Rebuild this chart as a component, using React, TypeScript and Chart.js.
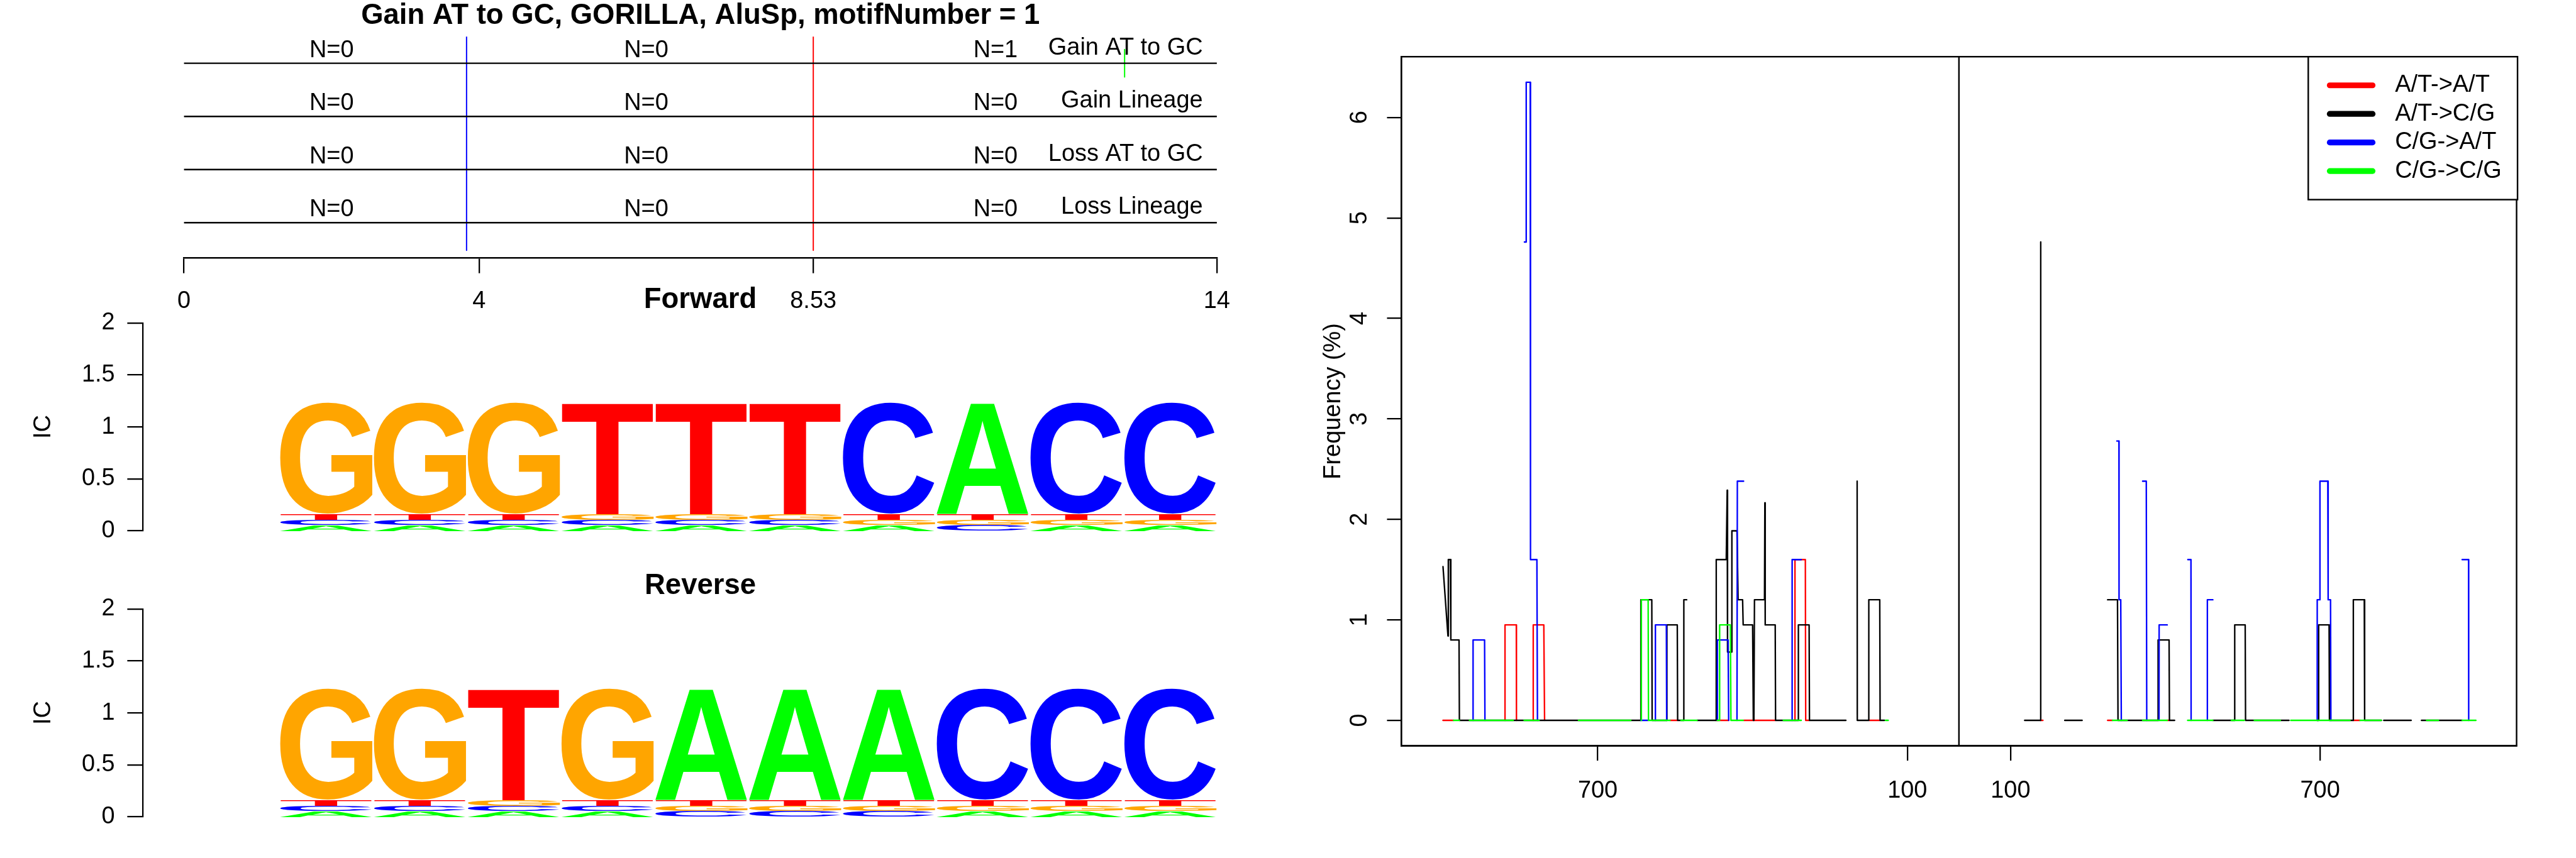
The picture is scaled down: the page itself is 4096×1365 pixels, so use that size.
import React, { useEffect, useRef } from 'react';
import { Chart, registerables } from 'chart.js';

Chart.register(...registerables);

const S = 0.758;
const FAMILY = '"Liberation Sans", Arial, Helvetica, sans-serif';
const px = (v: number) => v * S;

// ---------------- data: top track panel ----------------
const figureTitle = 'Gain AT to GC, GORILLA, AluSp, motifNumber = 1';
const trackRows = ['Gain AT to GC', 'Gain Lineage', 'Loss AT to GC', 'Loss Lineage'];
const trackCounts = [
  [0, 0, 1],
  [0, 0, 0],
  [0, 0, 0],
  [0, 0, 0],
];
const countPositions = [2, 6.265, 11];
const rowLabelPosition = 13.81;
const trackTicks = [0, 4, 8.53, 14];
const motifStart = 3.83;
const motifEnd = 8.53;
const trackEvents = [{ row: 0, pos: 12.75, color: '#00FF00' }];

// ---------------- data: sequence logos ----------------
const letterColors: Record<string, string> = { A: '#00FF00', C: '#0000FF', G: '#FFA500', T: '#FF0000' };
const icTicks = [0, 0.5, 1, 1.5, 2];
type Stack = [string, number][];
const forwardLogo: Stack[] = [
  [['A', 0.056], ['C', 0.05], ['T', 0.052], ['G', 1.079]],
  [['A', 0.056], ['C', 0.05], ['T', 0.052], ['G', 1.079]],
  [['A', 0.056], ['C', 0.05], ['T', 0.052], ['G', 1.079]],
  [['A', 0.056], ['C', 0.05], ['G', 0.052], ['T', 1.079]],
  [['A', 0.056], ['C', 0.05], ['G', 0.052], ['T', 1.079]],
  [['A', 0.056], ['C', 0.05], ['G', 0.052], ['T', 1.079]],
  [['A', 0.056], ['G', 0.05], ['T', 0.052], ['C', 1.079]],
  [['C', 0.056], ['G', 0.05], ['T', 0.052], ['A', 1.079]],
  [['A', 0.056], ['G', 0.05], ['T', 0.052], ['C', 1.079]],
  [['A', 0.056], ['G', 0.05], ['T', 0.052], ['C', 1.079]],
];
const reverseLogo: Stack[] = [
  [['A', 0.056], ['C', 0.05], ['T', 0.052], ['G', 1.079]],
  [['A', 0.056], ['C', 0.05], ['T', 0.052], ['G', 1.079]],
  [['A', 0.056], ['C', 0.05], ['G', 0.052], ['T', 1.079]],
  [['A', 0.056], ['C', 0.05], ['T', 0.052], ['G', 1.079]],
  [['C', 0.056], ['G', 0.05], ['T', 0.052], ['A', 1.079]],
  [['C', 0.056], ['G', 0.05], ['T', 0.052], ['A', 1.079]],
  [['C', 0.056], ['G', 0.05], ['T', 0.052], ['A', 1.079]],
  [['A', 0.056], ['G', 0.05], ['T', 0.052], ['C', 1.079]],
  [['A', 0.056], ['G', 0.05], ['T', 0.052], ['C', 1.079]],
  [['A', 0.056], ['G', 0.05], ['T', 0.052], ['C', 1.079]],
];

// ---------------- data: frequency plot ----------------
const freqYTicks = [0, 1, 2, 3, 4, 5, 6];
const leftPanelTicks = [700, 100];
const rightPanelTicks = [100, 700];
const seriesNames = ['A/T->A/T', 'A/T->C/G', 'C/G->A/T', 'C/G->C/G'];
const seriesColors = ['#FF0000', '#000000', '#0000FF', '#00FF00'];

type Pt = [number, number] | null;

const leftRed: Pt[] = [
  [1000, 0], [979.5, 0], null,
  [879.8, 0], [879.8, 0.95], [857.9, 0.95], [857.6, 0], null,
  [825.1, 0], [825.1, 0.95], [804.6, 0.95], [803.1, 0], null,
  [560, 0], [545.9, 0], null,
  [470.4, 0], [446.3, 0], null,
  [417.1, 0], [356.1, 0], null,
  [317.8, 0], [317.8, 1.6], [297.7, 1.6], [297, 0], [290.4, 0], null,
  [173.6, 0], [153.5, 0],
];
const leftBlack: Pt[] = [
  [1000, 1.53], [990.4, 0.84], [989.7, 1.6], [985.9, 1.6], [984.8, 0.8], [968.9, 0.8], [968.2, 0],
  [616.5, 0], [616.5, 1.2], [595.3, 1.2], [594.6, 0], [566, 0], [566, 0.95], [545.9, 0.95], [545.2, 0],
  [533.2, 0], [533.2, 1.2], [527.7, 1.2], null,
  [507.6, 0], [470.4, 0], [470.4, 1.6], [451, 1.6], [449.2, 2.29], [448.5, 0.68], [440.1, 0.68],
  [440.1, 1.886], [430.2, 1.886], [428, 1.2], [419.3, 1.2], [418.2, 0.95], [399.9, 0.95], [398.5, 0],
  [397.4, 0], [396.3, 1.2], [376.9, 1.2], [376.2, 2.165], [375.5, 0.95], [356.1, 0.95], [355.4, 0],
  [311.2, 0], [311.2, 0.95], [290.4, 0.95], [289.7, 0], [219.2, 0], null,
  [197.3, 2.38], [197, 0], [174.7, 0], [174.7, 1.2], [153.5, 1.2], [152.8, 0], [144.4, 0],
];
const leftBlue: Pt[] = [
  [941.7, 0], [941.7, 0.8], [919.4, 0.8], [918.7, 0], null,
  [842.2, 4.76], [839, 4.76], [838.7, 6.35], [830.9, 6.35], [830.4, 1.6], [818, 1.6], [816.9, 0], null,
  [616.5, 0], [602.4, 0], null,
  [588.3, 0], [588.3, 0.95], [567.1, 0.95], [566.5, 0], null,
  [468.2, 0], [468.2, 0.8], [447.4, 0.8], [446.3, 0], null,
  [430.2, 0], [429.5, 2.38], [417.4, 2.38], null,
  [323.3, 0], [323.3, 1.6], [305.7, 1.6],
];
const leftGreen: Pt[] = [
  [979.5, 0], [968.2, 0], null,
  [948.7, 0], [863.9, 0], null,
  [842.7, 0], [813.7, 0], null,
  [737.4, 0], [636, 0], null,
  [615.5, 0], [615.5, 1.2], [602.4, 1.2], [601.7, 0], [560, 0], null,
  [538.8, 0], [507.6, 0], null,
  [468.2, 0], [463.8, 0], [463.8, 0.95], [443, 0.95], [441.9, 0], [418.2, 0], null,
  [340.4, 0], [305.7, 0], null,
  [142.5, 0], [137.1, 0],
];
const rightRed: Pt[] = [
  [158.1, 0], [162.7, 0], null,
  [288.2, 0], [297.7, 0], null,
  [403.7, 0], [407.3, 0], null,
  [764.4, 0], [777.5, 0],
];
const rightBlack: Pt[] = [
  [127.4, 0], [158.1, 0], [158.5, 4.76], null,
  [205.1, 0], [238.7, 0], null,
  [288.2, 1.2], [307.3, 1.2], [308.3, 0], [386, 0], [386, 0.8], [407.3, 0.8], [408, 0], [417.9, 0], null,
  [492.1, 0], [534.5, 0], [534.5, 0.95], [554.8, 0.95], [555.5, 0], [639.6, 0], null,
  [694.4, 0], [697.2, 0], [697.2, 0.95], [717.4, 0.95], [718.1, 0], [764.4, 0], [764.4, 1.2],
  [785.6, 1.2], [786.3, 0], [818.8, 0], null,
  [823.4, 0], [876.4, 0], null,
  [896.5, 0], [975.3, 0],
];
const rightBlue: Pt[] = [
  [306, 2.78], [310.1, 2.78], [310.3, 1.2], [313.6, 1.2], [314.7, 0], null,
  [356, 2.38], [363.1, 2.38], [364, 0], null,
  [387.8, 0], [388, 0.95], [403.7, 0.95], null,
  [443.7, 1.6], [449.7, 1.6], [450, 0], null,
  [481.5, 0], [481.5, 1.2], [492.1, 1.2], null,
  [694.4, 0], [694.4, 1.2], [699.7, 1.2], [699.7, 2.38], [714.9, 2.38], [715.6, 1.2], [720.2, 1.2], [720.9, 0], null,
  [975.3, 1.6], [987.7, 1.6], [988, 0],
];
const rightGreen: Pt[] = [
  [297.7, 0], [326, 0], null,
  [356, 0], [403.7, 0], null,
  [443.3, 0], [492.1, 0], null,
  [528, 0], [553, 0], null,
  [572.5, 0], [623, 0], null,
  [643.2, 0], [758, 0], null,
  [777.5, 0], [818.8, 0], null,
  [906.4, 0], [929.4, 0], null,
  [975.3, 0], [1001.9, 0],
];

// ---------------- helpers ----------------
function toData(pts: Pt[], sign: number) {
  const out: { x: number; y: number | null }[] = [];
  let lastX = 0;
  for (const p of pts) {
    if (p === null) out.push({ x: lastX, y: null });
    else {
      lastX = sign * p[0];
      out.push({ x: lastX, y: p[1] });
    }
  }
  return out;
}

const baseOptions = () => ({
  responsive: false,
  maintainAspectRatio: false,
  devicePixelRatio: 1,
  animation: false as const,
  events: [] as any[],
  plugins: { legend: { display: false }, tooltip: { enabled: false }, title: { display: false } },
  elements: { point: { radius: 0 }, line: { tension: 0, borderJoinStyle: 'round', borderCapStyle: 'round', fill: false } },
});

function drawLetter(ctx: CanvasRenderingContext2D, ch: string, color: string, x0: number, x1: number, yTop: number, yBot: number) {
  const h = yBot - yTop;
  const w = x1 - x0;
  if (h <= 0.2 || w <= 0) return;
  ctx.save();
  ctx.font = `bold 400px ${FAMILY}`;
  ctx.textAlign = 'left';
  ctx.textBaseline = 'alphabetic';
  const m = ctx.measureText(ch);
  const gl = m.actualBoundingBoxLeft;
  const gr = m.actualBoundingBoxRight;
  const ga = m.actualBoundingBoxAscent;
  const gd = m.actualBoundingBoxDescent;
  ctx.translate(x0, yTop);
  ctx.scale(w / (gl + gr), h / (ga + gd));
  ctx.fillStyle = color;
  ctx.fillText(ch, gl, ga);
  ctx.restore();
}

// ---------------- chart configs ----------------
function trackConfig(): any {
  const W = 2700, H = 680, areaL = 386, areaR = 2552, areaT = 77, areaB = 542;
  const rowSpacing = 111.67;
  const yMax = (areaB - areaT) / rowSpacing;
  const datasets: any[] = [];
  trackRows.forEach((_, i) => {
    datasets.push({
      data: [{ x: trackTicks[0], y: i + 0.5 }, { x: trackTicks[trackTicks.length - 1], y: i + 0.5 }],
      borderColor: '#000000', borderWidth: px(3.2),
    });
  });
  datasets.push({ data: [{ x: motifStart, y: 0 }, { x: motifStart, y: 4.02 }], borderColor: '#0000FF', borderWidth: px(2.6) });
  datasets.push({ data: [{ x: motifEnd, y: 0 }, { x: motifEnd, y: 4.02 }], borderColor: '#FF0000', borderWidth: px(2.6) });
  trackEvents.forEach((e) => {
    datasets.push({ data: [{ x: e.pos, y: e.row + 0.24 }, { x: e.pos, y: e.row + 0.76 }], borderColor: e.color, borderWidth: px(2.6) });
  });
  const textPlugin = {
    id: 'trackText',
    afterDraw(chart: any) {
      const { ctx, chartArea, scales } = chart;
      const xs = scales.x, ys = scales.y;
      ctx.save();
      ctx.fillStyle = '#000';
      ctx.textBaseline = 'middle';
      ctx.textAlign = 'center';
      ctx.font = `bold ${px(60)}px ${FAMILY}`;
      ctx.fillText(figureTitle, (chartArea.left + chartArea.right) / 2, px(34));
      ctx.font = `${px(50)}px ${FAMILY}`;
      trackCounts.forEach((row, i) => {
        row.forEach((n, j) => {
          ctx.fillText(`N=${n}`, xs.getPixelForValue(countPositions[j]), ys.getPixelForValue(i + 0.26));
        });
      });
      ctx.textAlign = 'right';
      trackRows.forEach((lab, i) => {
        ctx.fillText(lab, xs.getPixelForValue(rowLabelPosition), ys.getPixelForValue(i + 0.21));
      });
      ctx.restore();
    },
  };
  return {
    type: 'line',
    data: { datasets },
    options: {
      ...baseOptions(),
      layout: { padding: { left: px(areaL), right: px(W - areaR), top: px(areaT), bottom: 0 } },
      scales: {
        x: {
          type: 'linear', position: 'bottom', min: 0, max: 14,
          afterBuildTicks: (s: any) => { s.ticks = trackTicks.map((v) => ({ value: v })); },
          afterFit: (s: any) => { s.height = px(H - areaB); },
          grid: { drawOnChartArea: false, drawTicks: true, tickLength: px(32), color: '#000', lineWidth: px(3) },
          border: { display: true, color: '#000', width: px(3.2) },
          ticks: { autoSkip: false, maxRotation: 0, padding: px(29), color: '#000', font: { family: FAMILY, size: px(50) }, callback: (v: any) => String(v) },
        },
        y: { type: 'linear', display: false, min: 0, max: yMax, reverse: true },
      },
    },
    plugins: [textPlugin],
  };
}

function logoConfig(title: string, columns: Stack[]): any {
  const W = 2700, H = 580, areaL = 300, areaR = 2552, areaT = 88, areaB = 531;
  const colStart = 585; // pixel where first column begins (ref)
  const colWidth = (areaR - colStart) / columns.length;
  const xMin = 0.5 - (colStart - areaL) / colWidth;
  const xMax = columns.length + 0.5;
  const fontSize = px(50);
  const logoPlugin = {
    id: 'logo',
    afterDatasetsDraw(chart: any) {
      const { ctx, scales } = chart;
      const xs = scales.x, ys = scales.y;
      columns.forEach((col, i) => {
        const x0 = xs.getPixelForValue(i + 0.5);
        const x1 = xs.getPixelForValue(i + 1.5);
        let cum = 0;
        col.forEach(([ch, h]) => {
          const yb = ys.getPixelForValue(cum);
          const yt = ys.getPixelForValue(cum + h);
          drawLetter(ctx, ch, letterColors[ch], x0, x1, yt, yb);
          cum += h;
        });
      });
      ctx.save();
      ctx.fillStyle = '#000';
      ctx.font = `bold ${px(60)}px ${FAMILY}`;
      ctx.textAlign = 'center';
      ctx.textBaseline = 'middle';
      ctx.fillText(title, px(1469), px(40));
      ctx.restore();
    },
  };
  return {
    type: 'line',
    data: { datasets: [] },
    options: {
      ...baseOptions(),
      layout: { padding: { left: 0, right: px(W - areaR), top: px(areaT), bottom: px(H - areaB) } },
      scales: {
        x: { type: 'linear', display: false, min: xMin, max: xMax },
        y: {
          type: 'linear', position: 'left', min: 0, max: 2,
          afterBuildTicks: (s: any) => { s.ticks = icTicks.map((v) => ({ value: v })); },
          afterFit: (s: any) => { s.width = px(areaL); },
          grid: { drawOnChartArea: false, drawTicks: true, tickLength: px(33), color: '#000', lineWidth: px(3) },
          border: { display: true, color: '#000', width: px(3) },
          ticks: { padding: px(26), color: '#000', font: { family: FAMILY, size: fontSize }, callback: (v: any) => String(v) },
          title: {
            display: true, text: 'IC', color: '#000',
            font: { family: FAMILY, size: fontSize },
            padding: { top: px(92) - (fontSize * 1.2) / 2, bottom: 0 },
          },
        },
      },
    },
    plugins: [logoPlugin],
  };
}

function freqConfig(): any {
  const W = 2700, H = 1800, areaL = 239, areaR = 2578, areaT = 119, areaB = 1566;
  const fontSize = px(50);
  const panels: [Pt[][], number][] = [
    [[leftRed, leftBlack, leftBlue, leftGreen], -1],
    [[rightRed, rightBlack, rightBlue, rightGreen], 1],
  ];
  const datasets: any[] = [];
  panels.forEach(([series, sign]) => {
    series.forEach((pts, k) => {
      datasets.push({
        label: seriesNames[k],
        data: toData(pts, sign),
        borderColor: seriesColors[k],
        borderWidth: px(3.1),
        spanGaps: false,
        order: 4 - k,
      });
    });
  });
  const freqPlugin = {
    id: 'freqDecor',
    afterDraw(chart: any) {
      const { ctx, chartArea: a, scales } = chart;
      const xs = scales.x, ys = scales.y;
      ctx.save();
      ctx.strokeStyle = '#000';
      ctx.lineWidth = px(3.2);
      ctx.strokeRect(a.left, a.top, a.right - a.left, a.bottom - a.top);
      const xd = xs.getPixelForValue(0);
      ctx.beginPath();
      ctx.moveTo(xd, a.top);
      ctx.lineTo(xd, a.bottom);
      ctx.stroke();
      // rotated y tick labels
      ctx.fillStyle = '#000';
      ctx.font = `${fontSize}px ${FAMILY}`;
      ctx.textAlign = 'center';
      ctx.textBaseline = 'middle';
      freqYTicks.forEach((v) => {
        ctx.save();
        ctx.translate(a.left - px(87), ys.getPixelForValue(v));
        ctx.rotate(-Math.PI / 2);
        ctx.fillText(String(v), 0, 0);
        ctx.restore();
      });
      // legend
      const bw = px(439), bh = px(300);
      const bx = a.right + px(2) - bw, by = a.top;
      ctx.fillStyle = '#fff';
      ctx.fillRect(bx, by, bw, bh);
      ctx.strokeStyle = '#000';
      ctx.lineWidth = px(3.2);
      ctx.strokeRect(bx, by, bw, bh);
      seriesNames.forEach((name, i) => {
        const yy = by + px(60 + 60 * i);
        ctx.strokeStyle = seriesColors[i];
        ctx.lineWidth = px(12);
        ctx.lineCap = 'round';
        ctx.beginPath();
        ctx.moveTo(bx + px(45), yy);
        ctx.lineTo(bx + px(135), yy);
        ctx.stroke();
        ctx.fillStyle = '#000';
        ctx.textAlign = 'left';
        ctx.fillText(name, bx + px(182), yy);
      });
      ctx.restore();
    },
  };
  const xTicks = [...leftPanelTicks.map((v) => -v), ...rightPanelTicks];
  return {
    type: 'line',
    data: { datasets },
    options: {
      ...baseOptions(),
      layout: { padding: { left: 0, right: px(W - areaR), top: px(areaT), bottom: 0 } },
      scales: {
        x: {
          type: 'linear', position: 'bottom', min: -1080.8, max: 1080.8,
          afterBuildTicks: (s: any) => { s.ticks = xTicks.map((v) => ({ value: v })); },
          afterFit: (s: any) => { s.height = px(H - areaB); },
          grid: { drawOnChartArea: false, drawTicks: true, tickLength: px(31), color: '#000', lineWidth: px(3) },
          border: { display: true, color: '#000', width: px(3.2) },
          ticks: { autoSkip: false, maxRotation: 0, padding: px(34), color: '#000', font: { family: FAMILY, size: fontSize }, callback: (v: any) => String(Math.abs(Number(v))) },
        },
        y: {
          type: 'linear', position: 'left', min: -0.254, max: 6.604,
          afterBuildTicks: (s: any) => { s.ticks = freqYTicks.map((v) => ({ value: v })); },
          afterFit: (s: any) => { s.width = px(areaL); },
          grid: { drawOnChartArea: false, drawTicks: true, tickLength: px(30), color: '#000', lineWidth: px(3) },
          border: { display: true, color: '#000', width: px(3.2) },
          ticks: { color: 'rgba(0,0,0,0)', font: { family: FAMILY, size: fontSize } },
          title: {
            display: true, text: 'Frequency (%)', color: '#000',
            font: { family: FAMILY, size: fontSize },
            padding: { top: px(97) - (fontSize * 1.2) / 2, bottom: 0 },
          },
        },
      },
    },
    plugins: [freqPlugin],
  };
}

// ---------------- components ----------------
function ChartCanvas({ x, y, w, h, make }: { x: number; y: number; w: number; h: number; make: () => any }) {
  const ref = useRef<HTMLCanvasElement | null>(null);
  const cw = Math.round(px(w));
  const ch = Math.round(px(h));
  useEffect(() => {
    if (!ref.current) return;
    const chart = new Chart(ref.current, make());
    return () => chart.destroy();
  }, []);
  return (
    <canvas
      ref={ref}
      width={cw}
      height={ch}
      style={{ position: 'absolute', left: Math.round(px(x)), top: Math.round(px(y)), width: cw, height: ch }}
    />
  );
}

export default function App() {
  return (
    <div style={{ position: 'fixed', left: 0, top: 0, width: 4096, height: 1365, background: '#ffffff', overflow: 'hidden' }}>
      <ChartCanvas x={0} y={0} w={2700} h={680} make={trackConfig} />
      <ChartCanvas x={0} y={590} w={2700} h={580} make={() => logoConfig('Forward', forwardLogo)} />
      <ChartCanvas x={0} y={1190} w={2700} h={580} make={() => logoConfig('Reverse', reverseLogo)} />
      <ChartCanvas x={2700} y={0} w={2700} h={1800} make={freqConfig} />
    </div>
  );
}
